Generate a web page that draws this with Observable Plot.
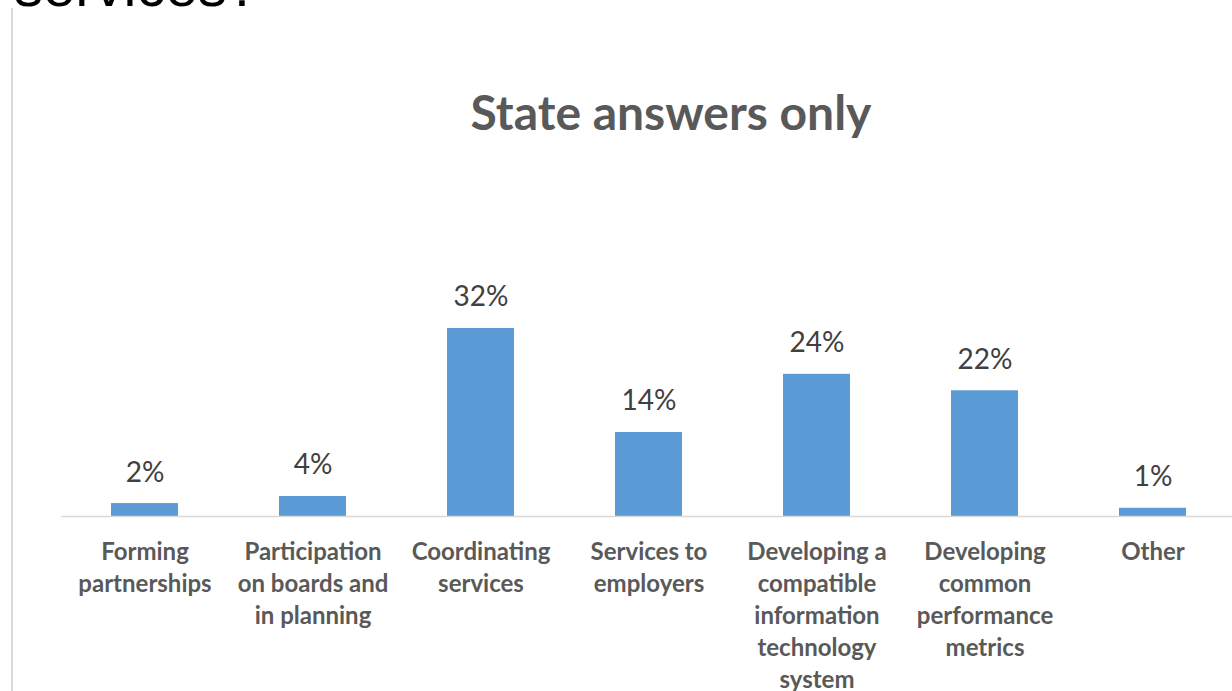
<!DOCTYPE html>
<html>
<head>
<meta charset="utf-8">
<script src="https://cdn.jsdelivr.net/npm/d3@7"></script>
<script src="https://cdn.jsdelivr.net/npm/@observablehq/plot@0.6"></script>
<style>
  html, body { margin: 0; padding: 0; background: #fff; }
  #wrap { position: relative; width: 1232px; height: 691px; overflow: hidden; background: #fff; }
  #frame { position: absolute; left: 11px; top: 8px; width: 1240px; height: 700px; border-left: 2px solid #d9d9d9; }
  #question { position: absolute; left: 14px; top: -43px; font-family: "Liberation Sans", Arial, sans-serif; font-size: 58px; color: #000; white-space: nowrap; line-height: 1; }
  #title { position: absolute; left: 0; width: 1342px; top: 83px; text-align: center; font-family: Lato, "Open Sans", sans-serif; font-weight: 700; font-size: 48px; color: #595959; line-height: 1.2; }
  #chart { position: absolute; left: 0; top: 0; }
</style>
</head>
<body>
<div id="wrap">
  <div id="question">services?</div>
  <div id="frame"></div>
  <div id="title">State answers only</div>
  <div id="chart"></div>
</div>
<script>
const categories = [
  "Forming\npartnerships",
  "Participation\non boards and\nin planning",
  "Coordinating\nservices",
  "Services to\nemployers",
  "Developing a\ncompatible\ninformation\ntechnology\nsystem",
  "Developing\ncommon\nperformance\nmetrics",
  "Other"
];
// bar heights (labels show rounded percentages)
const values = [2.2, 3.4, 32, 14.3, 24.2, 21.4, 1.4];
const valueLabels = ["2%", "4%", "32%", "14%", "24%", "22%", "1%"];

const data = categories.map((c, i) => ({ category: c, value: values[i], label: valueLabels[i] }));

const chart = Plot.plot({
  width: 1232,
  height: 691,
  marginLeft: 61,
  marginRight: 0,
  marginTop: 0,
  marginBottom: 0,
  style: { background: "transparent", overflow: "visible" },
  x: { domain: categories, range: [61, 1237], paddingInner: 0.6, paddingOuter: 0.3, axis: null },
  y: { domain: [0, 35], range: [516, 516 - 5.875 * 35], axis: null },
  marks: [
    Plot.barY(data, { x: "category", y: "value", fill: "#5b9bd5" }),
    Plot.ruleY([0], { stroke: "#d9d9d9", strokeWidth: 1.5 }),
    Plot.text(data, {
      x: "category", y: "value", text: "label",
      dy: -31, lineAnchor: "middle",
      fontFamily: "Lato, 'Open Sans', sans-serif", fontSize: 28, fill: "#404040"
    }),
    Plot.text(data, {
      x: "category", y: () => 0, text: "category",
      dy: 21, lineAnchor: "top", lineHeight: 32 / 24,
      fontFamily: "Lato, 'Open Sans', sans-serif", fontWeight: 700, fontSize: 24, fill: "#595959"
    })
  ]
});
document.getElementById("chart").appendChild(chart);
</script>
</body>
</html>
